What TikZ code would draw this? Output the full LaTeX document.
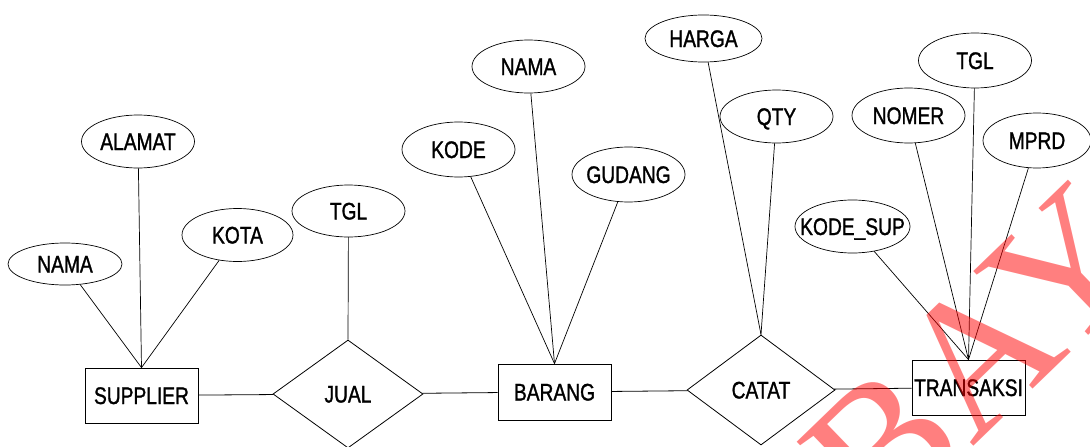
\documentclass[tikz,border=0pt]{standalone}
\usepackage{fontspec}
\setmainfont{Liberation Sans}[FakeStretch=0.8, FakeBold=1.2]
\newfontfamily\wmfont{Liberation Serif}
\usetikzlibrary{shapes.geometric}
\newcommand\zw[1]{\makebox[0pt]{#1}}
\tikzset{
  base/.style={draw, line width=0.8pt, inner sep=0pt,
    font=\fontsize{24}{26}\selectfont, text height=17pt, text depth=0pt},
  entity/.style={base, rectangle, minimum width=113pt, minimum height=55pt},
  relation/.style={base, diamond, minimum width=150pt, minimum height=108pt},
  attrib/.style={base, ellipse, line width=0.7pt, minimum width=113pt, minimum height=53pt},
  link/.style={line width=0.7pt},
}
\begin{document}
\begin{tikzpicture}[x=1pt, y=-1pt]
\useasboundingbox (0,0) rectangle (1090,447);

% entities and relationships
\node[entity]   (supplier)  at (141.5,395.5) {\zw{SUPPLIER}};
\node[relation] (jual)      at (348,394)     {\zw{JUAL}};
\node[entity, minimum height=56pt] (barang) at (554.5,392) {\zw{BARANG}};
\node[relation, minimum width=148pt, minimum height=110pt] (catat) at (761,390) {\zw{CATAT}};
\node[entity]   (transaksi) at (968.5,387.5) {\zw{TRANSAKSI}};

% attributes
\node[attrib, minimum width=114pt, minimum height=42pt] (nama1) at (65,264) {\zw{NAMA}};
\node[attrib] (alamat)  at (138,141.5)  {\zw{ALAMAT}};
\node[attrib, minimum width=111pt] (kota) at (237.5,235) {\zw{KOTA}};
\node[attrib, minimum height=52pt] (tgl1) at (348.5,211) {\zw{TGL}};
\node[attrib, minimum height=55pt] (kode)   at (458.5,149.5) {\zw{KODE}};
\node[attrib] (nama2)   at (528.5,66.5) {\zw{NAMA}};
\node[attrib, minimum height=55pt] (gudang) at (628.5,174.5) {\zw{GUDANG}};
\node[attrib, minimum width=117pt, minimum height=47pt] (harga) at (703.5,38.5) {\zw{HARGA}};
\node[attrib] (qty)     at (776.5,116.5) {\zw{QTY}};
\node[attrib, minimum height=55pt] (nomer) at (908.5,115.5) {\zw{NOMER}};
\node[attrib, minimum height=55pt] (tgl2)  at (975,60.5)    {\zw{TGL}};
\node[attrib, minimum width=108pt, minimum height=55pt] (mprd) at (1037,140.5) {\zw{MPRD}};
\node[attrib, minimum width=115pt] (kodesup) at (852.5,226.5) {\zw{KODE\_SUP}};

% attribute links
\draw[link] (nama1)  -- (supplier.north);
\draw[link] (alamat) -- (supplier.north);
\draw[link] (kota)   -- (supplier.north);
\draw[link] (tgl1)   -- (jual.north);
\draw[link] (kode)   -- (barang.north);
\draw[link] (nama2)  -- (barang.north);
\draw[link] (gudang) -- (barang.north);
\draw[link] (harga)  -- (catat.north);
\draw[link] (qty)    -- (catat.north);
\draw[link] (kodesup) -- (transaksi.north);
\draw[link] (nomer)  -- (transaksi.north);
\draw[link] (tgl2)   -- (transaksi.north);
\draw[link] (mprd)   -- (transaksi.north);

% relationship links
\draw[link, line width=0.8pt] (supplier) -- (jual);
\draw[link, line width=0.8pt] (jual) -- (barang);
\draw[link, line width=0.8pt] (barang) -- (catat);
\draw[link, line width=0.8pt] (catat) -- (transaksi);

% stamp across the lower right corner
\begin{scope}
  \clip (0,0) rectangle (1090,447);
  \node[anchor=base west, rotate=44, inner sep=0pt, text=red, opacity=0.5,
        font=\wmfont\fontsize{192}{192}\selectfont] (stamp) at (880,537) {BAY};
\end{scope}
\end{tikzpicture}
\end{document}
